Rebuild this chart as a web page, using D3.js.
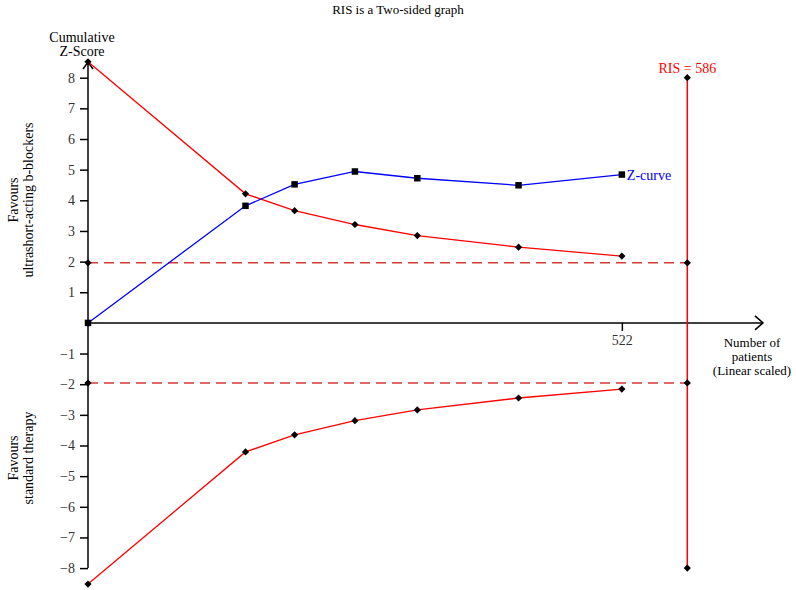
<!DOCTYPE html>
<html>
<meta charset="utf-8">
<title>RIS Two-sided graph</title>
<style>
  html, body { margin: 0; padding: 0; background: #fff; }
  svg text { font-family: "Liberation Serif", "Times New Roman", serif; }
</style>
<body>
<div id="chart"></div>
<script src="https://cdn.jsdelivr.net/npm/d3@7"></script>
<script>
// values
var patients   = [0, 154, 202, 261, 322, 421, 522];
var zCurve     = [0, 3.82, 4.52, 4.94, 4.72, 4.49, 4.84];
var boundUpper = [8.52, 4.21, 3.66, 3.21, 2.85, 2.47, 2.18];
var boundLower = [-8.52, -4.21, -3.65, -3.19, -2.84, -2.45, -2.16];
var conventional = [1.96, -1.96];
var risValue = 586;
var risRange = [8, -8];
var yTickValues = [-8, -7, -6, -5, -4, -3, -2, -1, 1, 2, 3, 4, 5, 6, 7, 8];
var xTickValues = [522];

var width = 796, height = 590;
var serif = "'Liberation Serif', 'Times New Roman', serif";

var svg = d3.select("#chart").append("svg")
    .attr("width", width)
    .attr("height", height);

var x = d3.scaleLinear().domain([0, risValue]).range([88, 687.3]);
var y = d3.scaleLinear().domain([-8, 8]).range([568.1, 77.7]);

var red = "#ff0000", blue = "#0000ff", dashRed = "#d63a3a";

// title
svg.append("text")
    .attr("x", 398).attr("y", 14)
    .attr("text-anchor", "middle")
    .style("font-size", "13px")
    .text("RIS is a Two-sided graph");

// y axis label
svg.append("text")
    .attr("x", 82).attr("text-anchor", "middle")
    .style("font-size", "14px")
    .selectAll("tspan")
    .data(["Cumulative", "Z-Score"])
    .enter().append("tspan")
    .attr("x", 82)
    .attr("y", function(d, i) { return 42 + i * 14; })
    .text(function(d) { return d; });

// side labels
function sideLabel(cy, lines) {
    svg.append("text")
        .attr("transform", "translate(0," + cy + ") rotate(-90)")
        .attr("text-anchor", "middle")
        .style("font-size", "14px")
        .selectAll("tspan")
        .data(lines)
        .enter().append("tspan")
        .attr("x", 0)
        .attr("y", function(d, i) { return 18 + i * 15; })
        .text(function(d) { return d; });
}
sideLabel(200, ["Favours", "ultrashort-acting b-blockers"]);
sideLabel(458, ["Favours", "standard therapy"]);

// y axis
var yAxis = svg.append("g")
    .attr("transform", "translate(" + x(0) + ",0)")
    .call(d3.axisLeft(y).tickValues(yTickValues).tickSize(8).tickPadding(5)
        .tickFormat(function(d) { return d < 0 ? "\u2212" + Math.abs(d) : d; }));
yAxis.attr("font-family", serif).attr("font-size", 14);
yAxis.select(".domain").remove();
yAxis.selectAll(".tick line").attr("stroke", "#000").attr("stroke-width", 1.5);
yAxis.selectAll(".tick text").attr("fill", "#333");

svg.append("line")
    .attr("x1", x(0)).attr("x2", x(0))
    .attr("y1", 62).attr("y2", y(-8))
    .attr("stroke", "#000").attr("stroke-width", 1.5);
svg.append("path")
    .attr("d", "M" + (x(0) - 5) + ",69L" + x(0) + ",62L" + (x(0) + 5) + ",69")
    .attr("fill", "none").attr("stroke", "#000").attr("stroke-width", 1.5);

// x axis
var xAxis = svg.append("g")
    .attr("transform", "translate(0," + y(0) + ")")
    .call(d3.axisBottom(x).tickValues(xTickValues).tickSize(8).tickPadding(4));
xAxis.attr("font-family", serif).attr("font-size", 14);
xAxis.select(".domain").remove();
xAxis.selectAll(".tick line").attr("stroke", "#000").attr("stroke-width", 1.5);
xAxis.selectAll(".tick text").attr("fill", "#333");

svg.append("line")
    .attr("x1", x(0)).attr("x2", 763)
    .attr("y1", y(0)).attr("y2", y(0))
    .attr("stroke", "#000").attr("stroke-width", 1.5);
svg.append("path")
    .attr("d", "M755," + (y(0) - 7) + "L763," + y(0) + "L755," + (y(0) + 7))
    .attr("fill", "none").attr("stroke", "#000").attr("stroke-width", 1.5);

svg.append("text")
    .attr("text-anchor", "middle")
    .style("font-size", "13px")
    .selectAll("tspan")
    .data(["Number of", "patients", "(Linear scaled)"])
    .enter().append("tspan")
    .attr("x", 752)
    .attr("y", function(d, i) { return y(0) + 24 + i * 14; })
    .text(function(d) { return d; });

// conventional boundaries
svg.selectAll(".conv")
    .data(conventional)
    .enter().append("line")
    .attr("class", "conv")
    .attr("x1", x(0)).attr("x2", x(risValue))
    .attr("y1", function(d) { return y(d); })
    .attr("y2", function(d) { return y(d); })
    .attr("stroke", dashRed).attr("stroke-width", 1.5)
    .attr("stroke-dasharray", "10,6");

// RIS line
svg.append("line")
    .attr("x1", x(risValue)).attr("x2", x(risValue))
    .attr("y1", y(risRange[0])).attr("y2", y(risRange[1]))
    .attr("stroke", red).attr("stroke-width", 1.5);
svg.append("text")
    .attr("x", x(risValue)).attr("y", 73)
    .attr("text-anchor", "middle")
    .attr("fill", red)
    .style("font-size", "14px")
    .text("RIS = " + risValue);

var line = d3.line()
    .x(function(d) { return x(d[0]); })
    .y(function(d) { return y(d[1]); });

var upper = patients.map(function(p, i) { return [p, boundUpper[i]]; });
var lower = patients.map(function(p, i) { return [p, boundLower[i]]; });
var zc = patients.map(function(p, i) { return [p, zCurve[i]]; });

[upper, lower].forEach(function(b) {
    svg.append("path").datum(b)
        .attr("d", line)
        .attr("fill", "none").attr("stroke", red).attr("stroke-width", 1.3);
});
svg.append("path").datum(zc)
    .attr("d", line)
    .attr("fill", "none").attr("stroke", blue).attr("stroke-width", 1.3);

// markers
var diamonds = upper.concat(lower)
    .concat(conventional.map(function(c) { return [0, c]; }))
    .concat(conventional.map(function(c) { return [risValue, c]; }))
    .concat(risRange.map(function(r) { return [risValue, r]; }));

svg.selectAll(".diamond")
    .data(diamonds)
    .enter().append("path")
    .attr("class", "diamond")
    .attr("transform", function(d) { return "translate(" + x(d[0]) + "," + y(d[1]) + ") rotate(45)"; })
    .attr("d", d3.symbol(d3.symbolSquare, 26))
    .attr("fill", "#000");

svg.selectAll(".square")
    .data(zc)
    .enter().append("path")
    .attr("class", "square")
    .attr("transform", function(d) { return "translate(" + x(d[0]) + "," + y(d[1]) + ")"; })
    .attr("d", d3.symbol(d3.symbolSquare, 42))
    .attr("fill", "#000");

var last = zc[zc.length - 1];
svg.append("text")
    .attr("x", x(last[0]) + 5).attr("y", y(last[1]) + 5)
    .attr("fill", blue)
    .style("font-size", "14px")
    .text("Z-curve");
</script>
</body>
</html>
